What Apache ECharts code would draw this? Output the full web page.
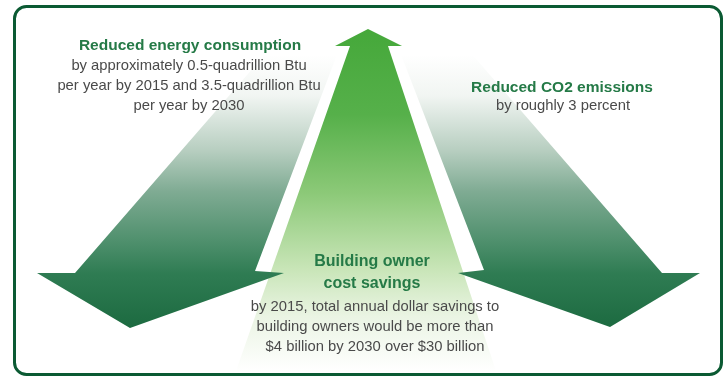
<!DOCTYPE html>
<html><head><meta charset="utf-8">
<script src="https://cdn.jsdelivr.net/npm/echarts@6/dist/echarts.min.js"></script>
<style>html,body{margin:0;padding:0;background:#fff}#c{width:727px;height:379px}</style>
</head><body><div id="c"></div>
<script>
// ---- content ----
const arrowNames = ['Building owner cost savings', 'Reduced energy consumption', 'Reduced CO2 emissions'];
// arrow outlines, [x, y] in picture units (y downwards)
const centerArrow = [[368,29],[402,46],[388,46],[496,371],[236,371],[350,46],[335,46]];
const leftArrow   = [[338,52],[255,271],[284,273],[130,328],[37,273],[75,273],[267,52]];
const rightArrow  = [[400,52],[484,270],[458,273],[610,327],[700,273],[662,273],[470,52]];

const leftTitle = ['Reduced energy consumption'];
const leftBody = ['by approximately 0.5-quadrillion Btu', 'per year by 2015 and 3.5-quadrillion Btu', 'per year by 2030'];
const rightTitle = ['Reduced CO2 emissions'];
const rightBody = ['by roughly 3 percent'];
const centerTitle = ['Building owner', 'cost savings'];
const centerBody = ['by 2015, total annual dollar savings to', 'building owners would be more than', '$4 billion by 2030 over $30 billion'];

const shapes = [centerArrow, leftArrow, rightArrow];

const chart = echarts.init(document.getElementById('c'), null, {renderer: 'canvas'});

function renderItem(params, api) {
  const pts = shapes[params.dataIndex].map(p => api.coord(p));
  let fill;
  if (params.dataIndex === 0) {
    const a = api.coord([0, 29]), b = api.coord([0, 371]);
    fill = new echarts.graphic.LinearGradient(0, a[1], 0, b[1], [
      {offset: 0, color: '#45a83a'},
      {offset: 0.25, color: '#56b04a'},
      {offset: 0.48, color: '#8cc978'},
      {offset: 0.7, color: '#c8e5b7'},
      {offset: 0.84, color: '#eaf4e3'},
      {offset: 1, color: '#ffffff'}
    ], true);
  } else {
    const a = api.coord([0, 55]), b = api.coord([0, 328]);
    fill = new echarts.graphic.LinearGradient(0, a[1], 0, b[1], [
      {offset: 0, color: '#ffffff'},
      {offset: 0.15, color: '#f1f5f2'},
      {offset: 0.35, color: '#b7cec0'},
      {offset: 0.5, color: '#7fab93'},
      {offset: 0.7, color: '#4a8d69'},
      {offset: 0.8, color: '#2f7c53'},
      {offset: 1, color: '#1c6a40'}
    ], true);
  }
  return {type: 'polygon', shape: {points: pts}, style: {fill: fill}};
}

function textLines(lines, cx, y0, step, opts) {
  return lines.map((t, i) => ({
    type: 'text', z: 10,
    style: Object.assign({
      text: t, x: cx, y: y0 + i * step,
      textAlign: 'center', textVerticalAlign: 'middle'
    }, opts)
  }));
}
const titleStyle = {fontFamily: 'Liberation Sans', fontWeight: 'bold', fontSize: 15.5, fill: '#257a47'};
const bodyStyle = {fontFamily: 'Liberation Sans', fontSize: 14.8, fill: '#4a4a4a'};

chart.setOption({
  animation: false,
  grid: {left: 0, right: 0, top: 0, bottom: 0},
  xAxis: {type: 'value', min: 0, max: 727, show: false},
  yAxis: {type: 'value', min: 0, max: 379, inverse: true, show: false},
  series: [{
    type: 'custom', coordinateSystem: 'cartesian2d', clip: false,
    renderItem: renderItem,
    data: arrowNames.map(n => ({name: n, value: [0, 0]}))
  }],
  graphic: [
    {type: 'rect', z: 20, shape: {x: 14.5, y: 6.5, width: 707, height: 368, r: 12},
     style: {fill: 'none', stroke: '#0b5a33', lineWidth: 3}}
  ].concat(
    textLines(leftTitle, 190, 46, 20, titleStyle),
    textLines(leftBody, 189, 66, 20, bodyStyle),
    textLines(rightTitle, 562, 88, 20, titleStyle),
    textLines(rightBody, 563, 106, 20, bodyStyle),
    textLines(centerTitle, 372, 262, 22, Object.assign({}, titleStyle, {fontSize: 16})),
    textLines(centerBody, 375, 307, 20, bodyStyle)
  )
});
</script></body></html>
